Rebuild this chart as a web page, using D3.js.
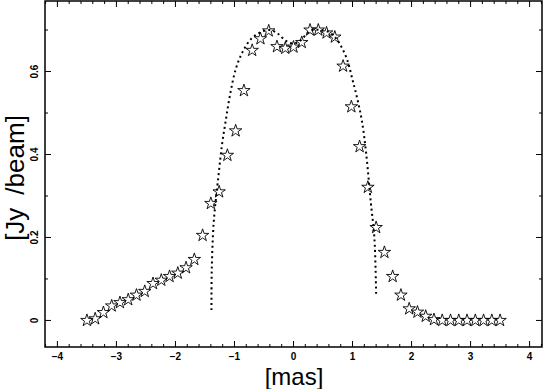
<!DOCTYPE html>
<html>
<head>
<meta charset="utf-8">
<script src="https://cdn.jsdelivr.net/npm/d3@7"></script>
<style>
  body { margin: 0; background: #fff; }
  svg { display: block; }
  text { font-family: "Liberation Sans", Arial, sans-serif; fill: #000; }
</style>
</head>
<body>
<script>
// brightness profile across the jet, stars = data, dots = model

const xPos = [-3.50, -3.36, -3.22, -3.08, -2.94, -2.80, -2.66, -2.52, -2.38, -2.24,
  -2.10, -1.96, -1.82, -1.68, -1.54, -1.40, -1.26, -1.12, -0.98, -0.84,
  -0.70, -0.56, -0.42, -0.28, -0.14, 0.00, 0.14, 0.28, 0.42, 0.56,
  0.70, 0.84, 0.98, 1.12, 1.26, 1.40, 1.54, 1.68, 1.82, 1.96,
  2.10, 2.24, 2.38, 2.52, 2.66, 2.80, 2.94, 3.08, 3.22, 3.36, 3.50];

const fluxObs = [0.000, 0.004, 0.019, 0.035, 0.043, 0.050, 0.061, 0.070, 0.089, 0.097,
  0.106, 0.114, 0.127, 0.147, 0.205, 0.282, 0.310, 0.398, 0.457, 0.554,
  0.651, 0.679, 0.698, 0.660, 0.656, 0.659, 0.670, 0.700, 0.700, 0.693,
  0.683, 0.613, 0.515, 0.419, 0.321, 0.224, 0.164, 0.106, 0.061, 0.028,
  0.020, 0.010, 0.002, 0.000, 0.000, 0.000, 0.000, 0.000, 0.000, 0.000, 0.000];

const modelX = [-1.39, -1.385, -1.35, -1.27, -1.21, -1.15, -1.08, -0.98, -0.86, -0.71,
  -0.55, -0.40, -0.28, -0.18, -0.08, 0.02, 0.12, 0.22, 0.32, 0.45,
  0.60, 0.72, 0.81, 0.91, 1.00, 1.08, 1.16, 1.23, 1.31, 1.37, 1.40];
const modelY = [0.025, 0.12, 0.24, 0.35, 0.425, 0.48, 0.54, 0.605, 0.648, 0.68,
  0.695, 0.700, 0.693, 0.680, 0.670, 0.668, 0.675, 0.690, 0.700, 0.700,
  0.695, 0.680, 0.660, 0.628, 0.580, 0.535, 0.480, 0.404, 0.284, 0.200, 0.060];

const xTicks = [-4, -3, -2, -1, 0, 1, 2, 3, 4];
const yTicks = [0, 0.2, 0.4, 0.6];

const width = 545, height = 389;
const frameL = 45, frameR = 542, frameT = 1, frameB = 347;

const svg = d3.select("body").append("svg")
    .attr("width", width)
    .attr("height", height);

const x = d3.scaleLinear().domain([-4.21, 4.21]).range([frameL, frameR]);
const y = d3.scaleLinear().domain([-0.064, 0.77]).range([frameB, frameT]);

const minus = v => String(v).replace("-", "\u2212");

// frame
svg.append("rect")
    .attr("x", frameL).attr("y", frameT)
    .attr("width", frameR - frameL).attr("height", frameB - frameT)
    .attr("fill", "none").attr("stroke", "#000").attr("stroke-width", 1.5);

// inward ticks on all four sides
const xMinor = d3.range(-42, 43, 2).map(d => d / 10).filter(d => !Number.isInteger(d));
const yMinor = [0.1, 0.3, 0.5, 0.7];
const tickG = svg.append("g").attr("stroke", "#000").attr("stroke-width", 1);

xTicks.forEach(t => {
    tickG.append("line").attr("x1", x(t)).attr("x2", x(t)).attr("y1", frameB).attr("y2", frameB - 6);
    tickG.append("line").attr("x1", x(t)).attr("x2", x(t)).attr("y1", frameT).attr("y2", frameT + 6);
});
xMinor.forEach(t => {
    tickG.append("line").attr("x1", x(t)).attr("x2", x(t)).attr("y1", frameB).attr("y2", frameB - 3);
    tickG.append("line").attr("x1", x(t)).attr("x2", x(t)).attr("y1", frameT).attr("y2", frameT + 3);
});
yTicks.forEach(t => {
    tickG.append("line").attr("x1", frameL).attr("x2", frameL + 6).attr("y1", y(t)).attr("y2", y(t));
    tickG.append("line").attr("x1", frameR).attr("x2", frameR - 6).attr("y1", y(t)).attr("y2", y(t));
});
yMinor.forEach(t => {
    tickG.append("line").attr("x1", frameL).attr("x2", frameL + 3).attr("y1", y(t)).attr("y2", y(t));
    tickG.append("line").attr("x1", frameR).attr("x2", frameR - 3).attr("y1", y(t)).attr("y2", y(t));
});

// tick labels
svg.append("g").selectAll("text").data(xTicks).join("text")
    .attr("x", d => x(d))
    .attr("y", 360)
    .attr("text-anchor", "middle")
    .attr("font-size", 10)
    .attr("font-weight", "bold")
    .text(d => minus(d));

svg.append("g").selectAll("text").data(yTicks).join("text")
    .attr("transform", d => `translate(38,${y(d)}) rotate(-90)`)
    .attr("text-anchor", "middle")
    .attr("font-size", 10)
    .attr("font-weight", "bold")
    .text(d => d === 0 ? "0" : d3.format(".1f")(d));

// axis titles
svg.append("text")
    .attr("x", 294).attr("y", 385)
    .attr("text-anchor", "middle")
    .attr("font-size", 24)
    .text("[mas]");

svg.append("text")
    .attr("transform", "translate(24,178) rotate(-90)")
    .attr("text-anchor", "middle")
    .attr("font-size", 26)
    .text("[Jy\u2002/beam]");

// model curve (dotted)
const model = modelX.map((d, i) => [d, modelY[i]]);
svg.append("path")
    .datum(model)
    .attr("fill", "none")
    .attr("stroke", "#000")
    .attr("stroke-width", 2)
    .attr("stroke-dasharray", "2,3.2")
    .attr("d", d3.line().x(d => x(d[0])).y(d => y(d[1])).curve(d3.curveCatmullRom));

// observed profile (open stars)
const star = d3.symbol().type(d3.symbolStar).size(48);
svg.append("g").selectAll("path").data(xPos).join("path")
    .attr("transform", (d, i) => `translate(${x(d)},${y(fluxObs[i])})`)
    .attr("d", star)
    .attr("fill", "none")
    .attr("stroke", "#000")
    .attr("stroke-width", 0.9);
</script>
</body>
</html>
